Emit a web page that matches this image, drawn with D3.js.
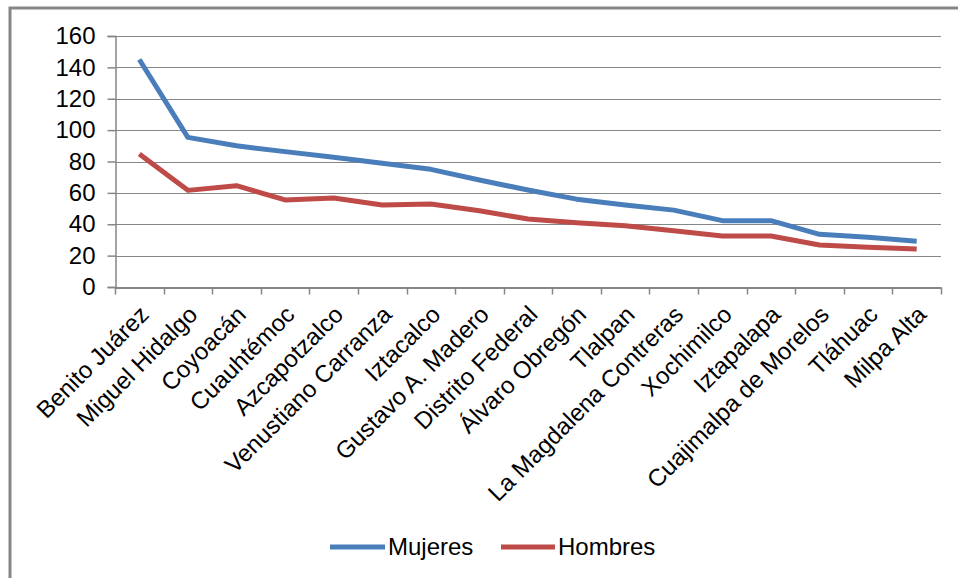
<!DOCTYPE html>
<html><head><meta charset="utf-8">
<script src="https://cdn.jsdelivr.net/npm/d3@7"></script>
<style>body{margin:0;background:#fff}svg{display:block}text{font-family:"Liberation Sans",Arial,sans-serif;fill:#000}</style>
</head><body><svg id="c" width="958" height="578"></svg>
<script>
const categories = ["Benito Juárez","Miguel Hidalgo","Coyoacán","Cuauhtémoc","Azcapotzalco","Venustiano Carranza","Iztacalco","Gustavo A. Madero","Distrito Federal","Álvaro Obregón","Tlalpan","La Magdalena Contreras","Xochimilco","Iztapalapa","Cuajimalpa de Morelos","Tláhuac","Milpa Alta"];
const mujeres = [145, 95.4, 90, 86.3, 82.7, 78.9, 75, 68.2, 61.8, 56, 52.3, 49, 42.3, 42.3, 33.6, 31.7, 29.1];
const hombres = [84.8, 61.6, 64.6, 55.5, 56.7, 52.3, 52.9, 48.6, 43.3, 41, 39, 35.9, 32.5, 32.5, 26.8, 25.3, 24.2];
const yTicks = [0, 20, 40, 60, 80, 100, 120, 140, 160];
const seriesNames = ["Mujeres", "Hombres"];
const colors = ["#4A7EBB", "#BE4B48"];

const svg = d3.select("#c");
const L = 115, R = 941, T = 36, B = 287;
const grey = "#868686";
const FS = "24px";

// frame
svg.append("rect").attr("x", 10).attr("y", 8).attr("width", 1000).attr("height", 700)
  .attr("fill", "none").attr("stroke", grey).attr("stroke-width", 3);

const x = d3.scaleBand().domain(categories).range([L, R]).padding(0);
const y = d3.scaleLinear().domain([0, 160]).range([B, T]);

// gridlines
svg.append("g").selectAll("line").data(yTicks.filter(d => d > 0)).join("line")
  .attr("x1", L).attr("x2", R).attr("y1", d => Math.round(y(d)) + 0.5).attr("y2", d => Math.round(y(d)) + 0.5)
  .attr("stroke", grey).attr("stroke-width", 1);

// y axis
const ya = svg.append("g").attr("transform", `translate(${L + 0.5},0)`)
  .call(d3.axisLeft(y).tickValues(yTicks).tickSize(8).tickPadding(12));
ya.select(".domain").attr("stroke", grey).attr("stroke-width", 1.5);
ya.selectAll(".tick line").attr("stroke", grey).attr("stroke-width", 1.5);
ya.selectAll("text").style("font-size", FS).attr("fill", "#000");

// x axis
const xa = svg.append("g").attr("transform", `translate(0,${B + 0.5})`)
  .call(d3.axisBottom(x).tickSize(0).tickFormat(""));
xa.select(".domain").attr("stroke", grey).attr("stroke-width", 2);
const bounds = categories.map(c => x(c)).concat([R]);
xa.append("g").selectAll("line").data(bounds).join("line")
  .attr("x1", d => Math.round(d) + 0.5).attr("x2", d => Math.round(d) + 0.5)
  .attr("y1", 0).attr("y2", 7).attr("stroke", grey).attr("stroke-width", 1.5);

// x labels
svg.append("g").selectAll("text").data(categories).join("text")
  .attr("transform", d => `translate(${x(d) + x.bandwidth() / 2 + 11},${B + 29}) rotate(-45)`)
  .attr("text-anchor", "end").style("font-size", FS).text(d => d);

// lines
const line = d3.line().x((d, i) => x(categories[i]) + x.bandwidth() / 2).y(d => y(d));
[mujeres, hombres].forEach((s, k) => {
  svg.append("path").datum(s).attr("d", line).attr("fill", "none")
    .attr("stroke", colors[k]).attr("stroke-width", 5).attr("stroke-linejoin", "round");
});

// legend
const leg = [{x1: 330, x2: 385, tx: 388}, {x1: 501, x2: 555, tx: 558}];
seriesNames.forEach((n, k) => {
  svg.append("line").attr("x1", leg[k].x1).attr("x2", leg[k].x2).attr("y1", 547).attr("y2", 547)
    .attr("stroke", colors[k]).attr("stroke-width", 5);
  svg.append("text").attr("x", leg[k].tx).attr("y", 555).style("font-size", FS).text(n);
});
</script></body></html>
